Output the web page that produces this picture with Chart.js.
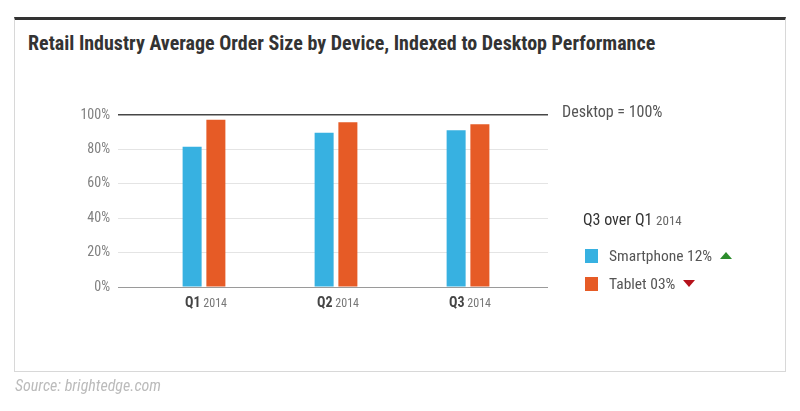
<!DOCTYPE html>
<html>
<head>
<meta charset="UTF-8">
<title>Retail Industry Average Order Size by Device</title>
<script src="https://cdn.jsdelivr.net/npm/chart.js@4.4.1/dist/chart.umd.min.js"></script>
<style>
  body { margin: 0; background: #fff; font-family: "Roboto Condensed", "DejaVu Sans Condensed", Roboto, sans-serif; }
  .caja { position: absolute; left: 14px; top: 17px; width: 772px; height: 355px; box-sizing: border-box;
          border: 1px solid #d8d8d8; border-top: 3px solid #333; }
  h1 { position: absolute; left: 28px; top: 31px; margin: 0; font-size: 20px; font-weight: bold; color: #333; white-space: nowrap; }
  #lienzo { position: absolute; left: 0; top: 0; }
  .desktop { position: absolute; left: 562px; top: 102px; font-size: 16px; color: #555; }
  .leyenda-titulo { position: absolute; left: 583px; top: 210px; font-size: 16px; color: #333; }
  .leyenda-titulo small { font-size: 13px; color: #666; }
  .item { position: absolute; left: 585px; font-size: 15.5px; color: #555; height: 14px; line-height: 14px; white-space: nowrap; }
  .item i { display: inline-block; width: 13px; height: 14px; vertical-align: top; margin-right: 11px; }
  .sube { display: inline-block; width: 0; height: 0; border-left: 6px solid transparent; border-right: 6px solid transparent;
          border-bottom: 7px solid #2c8c2c; margin-left: 8px; vertical-align: 2px; }
  .baja { display: inline-block; width: 0; height: 0; border-left: 6px solid transparent; border-right: 6px solid transparent;
          border-top: 7px solid #b5121b; margin-left: 8px; vertical-align: 2px; }
  .fuente { position: absolute; left: 15px; top: 376px; font-size: 16px; font-style: italic; color: #bbb; }
</style>
</head>
<body>
<div class="caja"></div>
<h1>Retail Industry Average Order Size by Device, Indexed to Desktop Performance</h1>
<canvas id="lienzo" width="800" height="411"></canvas>
<div class="desktop">Desktop = 100%</div>
<div class="leyenda-titulo">Q3 over Q1 <small>2014</small></div>
<div id="leyenda"></div>
<div class="fuente">Source: brightedge.com</div>

<script>
  const trimestres = ['Q1', 'Q2', 'Q3'];
  const anio = '2014';
  const series = ['Smartphone', 'Tablet'];
  const smartphone = [81.5, 89.7, 91.1];
  const tablet = [97.2, 95.8, 94.6];
  const cambios = ['12%', '03%'];
  const ticksY = [0, 20, 40, 60, 80, 100];

  const colores = ['#37b1e1', '#e65b26'];
  const fuente = '"Roboto Condensed", "DejaVu Sans Condensed", Roboto, sans-serif';

  // leyenda de la derecha
  const leyenda = document.getElementById('leyenda');
  series.forEach((nombre, i) => {
    const div = document.createElement('div');
    div.className = 'item';
    div.style.top = (249 + i * 28) + 'px';
    div.innerHTML = '<i style="background:' + colores[i] + '"></i>' + nombre + ' ' + cambios[i] +
      '<span class="' + (i === 0 ? 'sube' : 'baja') + '"></span>';
    leyenda.appendChild(div);
  });

  // etiquetas del eje x con dos tamaños de letra
  const etiquetasX = {
    id: 'etiquetasX',
    afterDraw(chart) {
      const ctx = chart.ctx;
      const x = chart.scales.x;
      ctx.save();
      ctx.textBaseline = 'alphabetic';
      ctx.textAlign = 'left';
      trimestres.forEach((q, i) => {
        const cx = x.getPixelForValue(i + 1) + 2;
        ctx.font = 'bold 14px ' + fuente;
        const w1 = ctx.measureText(q).width;
        ctx.font = '12px ' + fuente;
        const w2 = ctx.measureText(' ' + anio).width;
        const x0 = cx - (w1 + w2) / 2;
        ctx.font = 'bold 14px ' + fuente;
        ctx.fillStyle = '#444';
        ctx.fillText(q, x0, 307);
        ctx.font = '12px ' + fuente;
        ctx.fillStyle = '#777';
        ctx.fillText(' ' + anio, x0 + w1, 307);
      });
      ctx.restore();
    }
  };

  const datos = {
    datasets: [
      { label: series[0], data: smartphone.map((v, i) => ({ x: i + 1, y: v })), backgroundColor: colores[0] },
      { label: series[1], data: tablet.map((v, i) => ({ x: i + 1, y: v })), backgroundColor: colores[1] }
    ]
  };

  new Chart(document.getElementById('lienzo'), {
    type: 'bar',
    data: datos,
    options: {
      responsive: false,
      animation: false,
      categoryPercentage: 0.36,
      barPercentage: 0.8,
      layout: { padding: { left: 0, top: 115, right: 252, bottom: 124 } },
      scales: {
        x: {
          type: 'linear',
          display: false,
          offset: false,
          min: 0.3485,
          max: 3.606,
          afterBuildTicks: s => { s.ticks = trimestres.map((q, i) => ({ value: i + 1 })); }
        },
        y: {
          min: 0,
          max: 100,
          afterFit: s => { s.width = 118; },
          afterBuildTicks: s => { s.ticks = ticksY.map(v => ({ value: v })); },
          border: { display: false },
          grid: {
            drawTicks: false,
            color: c => c.tick.value === 100 ? '#474747' : (c.tick.value === 0 ? '#9a9a9a' : '#e4e4e4'),
            lineWidth: c => c.tick.value === 100 ? 1.5 : 1
          },
          ticks: {
            padding: 8,
            color: '#808080',
            font: { family: fuente, size: 14 },
            callback: v => v + '%'
          }
        }
      },
      plugins: { legend: { display: false }, tooltip: { enabled: false } }
    },
    plugins: [etiquetasX]
  });
</script>
</body>
</html>
